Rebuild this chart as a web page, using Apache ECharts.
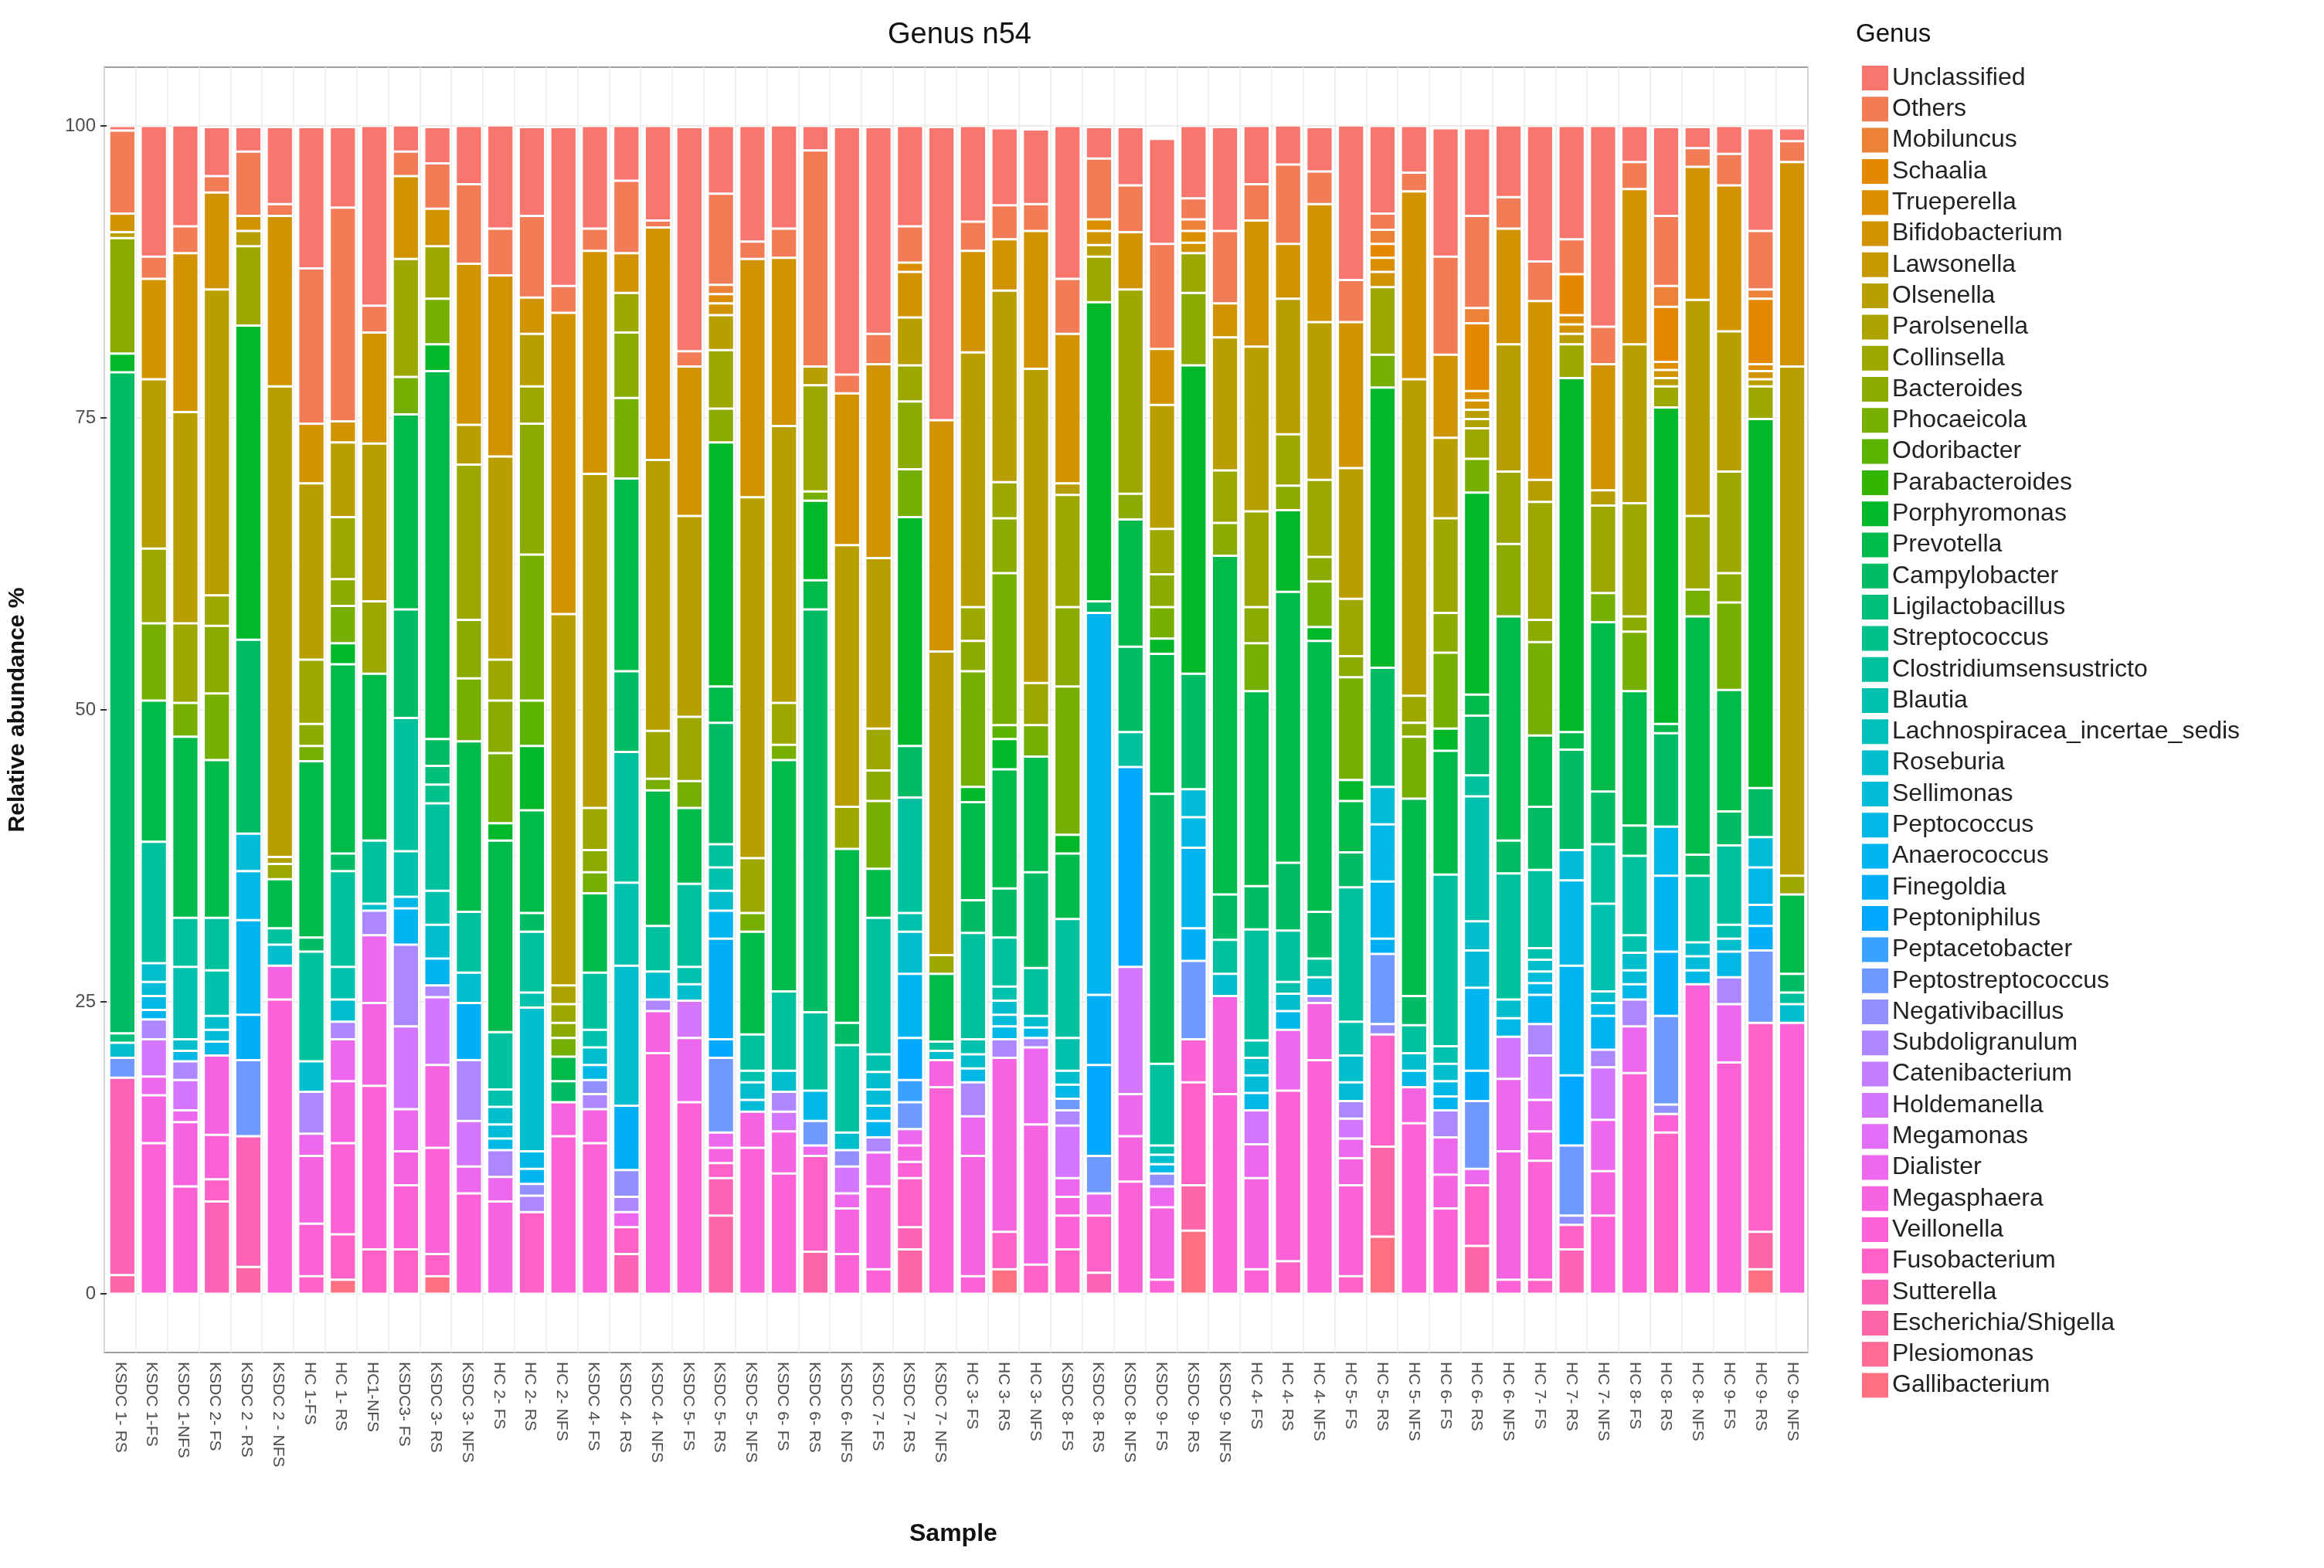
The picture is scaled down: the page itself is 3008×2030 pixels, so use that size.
<!DOCTYPE html>
<html>
<head>
<meta charset="utf-8">
<title>Genus n54</title>
<script src="https://cdn.jsdelivr.net/npm/echarts@6/dist/echarts.min.js"></script>
<style>
  html, body { margin: 0; padding: 0; background: #fff; }
  #chart { width: 3008px; height: 2030px; }
</style>
</head>
<body>
<div id="chart"></div>
<script>
// sample names (x axis)
var samples = ["KSDC 1- RS","KSDC 1-FS","KSDC 1-NFS","KSDC 2- FS","KSDC 2 - RS","KSDC 2 - NFS","HC 1-FS","HC 1- RS","HC1-NFS",
  "KSDC3- FS","KSDC 3- RS","KSDC 3- NFS","HC 2- FS","HC 2- RS","HC 2- NFS","KSDC 4- FS","KSDC 4- RS","KSDC 4- NFS",
  "KSDC 5- FS","KSDC 5- RS","KSDC 5- NFS","KSDC 6- FS","KSDC 6- RS","KSDC 6- NFS","KSDC 7- FS","KSDC 7- RS","KSDC 7- NFS",
  "HC 3- FS","HC 3- RS","HC 3- NFS","KSDC 8- FS","KSDC 8- RS","KSDC 8- NFS","KSDC 9- FS","KSDC 9- RS","KSDC 9- NFS",
  "HC 4- FS","HC 4- RS","HC 4- NFS","HC 5- FS","HC 5- RS","HC 5- NFS","HC 6- FS","HC 6- RS","HC 6- NFS",
  "HC 7- FS","HC 7- RS","HC 7- NFS","HC 8- FS","HC 8- RS","HC 8- NFS","HC 9- FS","HC 9- RS","HC 9- NFS"];

var yTicks = [0, 25, 50, 75, 100];

// relative abundance (%) per genus, one value per sample
var unclassified = [0.4,11.2,8.8,4.2,2.1,6.6,12.1,6.9,15.4,2.3, 3.1,5,8.9,7.6,13.6,8.8,4.7,8.1,19.2,5.8, 9.9,8.9,2.1,21.2,17.7,8.6,25.1,8.2,6.6,6.4, 13.1,2.7,5,9,6.2,8.9,5,3.4,3.8,13.4, 7.5,4,11,7.5,6.2,11.6,9.7,17.2,3.1,7.6, 1.8,2.4,8.8,1.1];
var others = [7.1,1.9,2.3,1.4,5.5,1,13.3,18.3,2.3,2.1, 3.9,6.8,4,7,2.3,1.9,6.2,0.6,1.3,7.8, 1.5,2.5,18.5,1.6,2.6,3.1,0,2.5,2.9,2.3, 4.7,5.2,4,9,1.8,6.2,3.1,6.8,2.8,3.6, 1.4,1.6,8.4,7.9,2.7,3.4,3,3.2,2.3,6, 1.6,2.7,5,1.8];
var mobiluncus = [0,0,0,0,0,0,0,0,0,0, 0,0,0,0,0,0,0,0,0,0.8, 0,0,0,0,0,0,0,0,0,0, 0,0,0,0,1,0,0,0,0,0, 1.2,0,0,1.3,0,0,0,0,0,1.8, 0,0,0.8,0];
var schaalia = [0,0,0,0,0,0,0,0,0,0, 0,0,0,0,0,0,0,0,0,0, 0,0,0,0,0,0,0,0,0,0, 0,0,0,0,0,0,0,0,0,0, 1.2,0,0,5.8,0,0,3.5,0,0,4.7, 0,0,5.6,0];
var trueperella = [0,0,0,0,0,0,0,0,0,0, 0,0,0,0,0,0,0,0,0,0.8, 0,0,0,0,0,0.8,0,0,0,0, 0,1,0,0,1,0,0,0,0,0, 1.2,0,0,0.8,0,0,0.8,0,0,0.7, 0,0,0.6,0];
var bifidobacterium = [1.6,8.6,13.6,8.3,1.3,14.6,5.1,1.8,9.5,7.1, 3.2,13.8,15.5,3.1,25.8,19.1,3.4,19.9,12.8,1, 20.4,14.4,0,13,16.6,3.9,19.8,8.7,4.4,11.8, 12.8,1.2,4.9,4.8,0.9,2.9,10.8,4.7,10.1,12.5, 1.3,16.1,7.1,0.8,9.9,15.3,0.8,10.8,13.3,0.7, 11.4,12.5,0.7,17.5];
var lawsonella = [0,0,0,0,0,0,0,0,0,0, 0,0,0,0,0,0,0,0,0,0, 0,0,0,0,0,0,0,0,0,0, 0,0,0,0,0,0,0,0,0,0, 0,0,0,0,0,0,0,0,0,0, 0,0,0,0];
var olsenella = [0.5,14.5,18.1,26.2,1.3,40.3,15.1,6.4,13.5,0, 0,3.4,17.4,4.5,31.8,28.6,0,23.2,17.2,3, 30.9,23.7,1.6,22.4,14.6,4.1,26,21.8,16.4,26.9, 1,1,0,10.6,0,11.4,14.1,11.6,13.5,11.2, 0,27.1,6.9,0.8,10.9,1.9,0.9,1.3,13.6,0.7, 18.5,12,0.6,43.6];
var parolsenella = [0,0,0,0,0,0.6,0,0,0,0, 0,0,0,0,1.6,0,0,0,0,0, 0,0,0,0,0,0,0,0,0,0, 0,0,0,0,0,0,0,0,0,0, 0,0,0,0.8,0,0,0,0,0,0, 0,0,0,0];
var collinsella = [0,6.4,6.8,2.6,6.8,1.3,5.5,5.3,6.2,10.1, 4.5,13.3,3.5,3.2,1.6,3.6,3.4,4.1,5.5,5, 4.7,3.6,9.1,3.6,3.6,3.1,1.6,2.9,3.1,3.6, 9.6,3.9,17.5,3.9,3.4,4.5,8.2,4.4,6.6,4.9, 5.8,2.3,8.1,2.6,6.2,10.1,2.9,7.5,9.7,1.8, 6.3,8.7,2.8,1.6];
var bacteroides = [9.9,0,0,5.8,0,0,1.9,2.3,0,0, 0,5,4.5,11.2,1.3,1.9,5.6,0,0,2.9, 0,0,0,0,2.6,5.8,0,2.6,4.7,0, 6.8,0,2.2,2.8,6.2,2.8,3.1,2.1,2.1,1.8, 0,1.2,3.4,0,6.2,1.9,0,0,1.3,0, 0,2.5,0,0];
var phocaeicola = [0,6.6,2.9,5.7,0,0,1.3,3.2,0,3.2, 3.9,5.4,6,12.5,1.6,1.8,6.9,1,2.3,0, 1.6,1.3,0.8,0,5.8,4.1,0,9.9,13,2.7, 12.7,0,0,2.7,0,0,4.1,0,3.9,8.8, 2.8,5.3,6.5,2.9,0,8,0,2.5,5.1,0, 2.3,7.5,0,0];
var odoribacter = [0,0,0,0,0,0,0,0,0,0, 0,0,0,3.9,0,0,0,0,0,0, 0,0,0,0,0,0,0,0,1.2,0, 0,0,0,0,0,0,0,0,0,0, 0,0,0,0,0,0,0,0,0,0, 0,0,0,0];
var parabacteroides = [0,0,0,0,0,0,0,0,0,0, 0,0,0,0,0,0,0,0,0,0, 0,0,0,0,0,0,0,0,0,0, 0,0,0,0,0,0,0,0,0,0, 0,0,0,0,0,0,0,0,0,0, 0,0,0,0];
var porphyromonas = [1.6,0,0,0,26.9,0,0,1.8,0,0, 2.3,0,1.5,5.5,0,0,0,0,0,20.9, 0,0,6.8,0,0,19.6,0,1.3,2.6,0, 1.6,25.6,0,1.3,26.4,0,0,7,1.2,1.8, 24,0,1.9,17.3,0,0,30.3,0,0,27.1, 0,0,31.6,0];
var prevotella = [0,12.1,15.5,13.5,0,4.2,15.1,16.2,14.3,16.7, 31.5,14.6,16.4,8.8,2.1,6.8,16.5,11.6,6.5,3.1, 8.8,19.8,2.5,14.9,4.2,0,5.8,8.4,10.2,9.9, 5.6,0,10.9,12,0,29,16.7,23.2,23.2,4.4, 0,16.9,10.6,1.8,19.2,6.1,1.5,14.5,11.5,0.8, 20.4,10.4,0,6.8];
var campylobacter = [56.6,0,0,0,16.6,0,1.2,1.5,0,9.3, 2.3,0,0,1.6,1.8,0,6.9,0,0,10.4, 0,0,34.5,1.9,0,4.4,0,2.8,4.2,8.2, 0,1,7.3,23.1,9.9,3.9,3.7,5.8,4,3, 10.2,2.5,0,5.1,2.8,5.4,8.6,4.5,2.6,8, 1.8,2.9,4.2,1.6];
var ligilactobacillus = [0.8,0,0,0,0,0,0,0,0,0, 1.6,0,0,0,0,0,0,0,0,0, 0,0,0,0,0,0,0,0,0,0, 0,0,0,0,0,0,0,0,0,0, 0,0,0,0,0,0,0,0,0,0, 0,0,0,0];
var streptococcus = [0,0,0,0,0,0,0,0,0,0, 1.6,0,0,0,0,0,0,0,0,0, 0,0,0,0,0,0,0,0,0,0, 0,0,0,0,0,0,0,0,0,0, 0,0,0,0,0,0,0,0,0,0, 0,0,0,0];
var clostridium = [0,10.4,4.2,4.5,0,1.4,9.4,8.2,5.4,11.4, 7.5,5.2,4.9,5.2,0,4.9,11.2,3.9,7.1,2, 3.1,6.8,6.7,7.5,11.7,9.9,0.8,9.1,4.2,4.1, 10.2,0,3,7,0,2.9,9.5,4.4,1.6,11.5, 0,2.4,14.7,1.8,10.8,6.7,0,5.1,6.8,0, 5.7,6.8,0,1];
var blautia = [0,0,6.2,3.9,0,0,0,2.8,0,3.9, 2.9,0,1.5,1.3,0,1.5,7.1,0,1.5,2, 1,0,0,0,1.5,1.6,0,1.3,1.2,0, 2.8,0,0,0.8,0,0,1.5,1,0,2.9, 0,0,1.5,10.7,0,1,0,7.5,1.5,0, 0,1.2,0,0];
var lachnospiracea = [0,0,0,0,0,0,0,0,0,0, 0,0,0,0,0,0,0,0,0,0, 0,0,0,0,0,0,0,0,0,0, 0,0,0,0,0,0,0,0,0,0, 0,0,0,0,0,0,0,0,0,0, 0,0,0,0];
var roseburia = [1.3,1.6,1,1.2,0,1.8,2.6,1.9,0.6,0, 2.9,2.6,1.5,12.3,0,1.5,12,2.4,1.4,1.7, 1.5,1.8,0,1.5,1.5,3.6,0.8,1.2,1.2,1, 1.2,0,0,0.8,0,1.9,1.5,1.5,1.6,2.3, 0,1.5,1.5,2.5,1.6,1,0,1,1.5,0, 1.2,1.1,0,1.6];
var sellimonas = [0,1.2,0,1,3.2,0,0,0,0,0, 0,0,1.2,0,0,0,0,0,0,0, 1,0,0,0,1.4,0,0,0,1,0, 0,0,0,0,2.4,0,1.5,0,0,1.6, 3.2,0,0,3.2,0,1,2.6,0,1.2,0, 1.2,0,2.6,0];
var peptococcus = [0,1.2,0.9,1.2,4.2,0,0,0,0,1, 0,0,1,1.5,0,1.3,0,0,0,0, 0,0,2.6,0,1.3,0,0,1.2,1.1,0.9, 1.2,0,0,0.8,2.6,0,1.5,1.6,0,0, 4.9,1.4,1.3,0,1.6,1,7.3,1.1,1.3,4.2, 1.2,2.2,3.2,0];
var anaerococcus = [0,0.8,0,0,8.1,0,0,0,0,3.1, 2.3,0,0,1.3,0,0,0,0,0,2.4, 0,0,0,0,1.4,5.5,0,0,0,0, 0,32.7,0,0,6.9,0,0,0,0,0, 4.9,0,1.2,7.1,0,2.5,9.4,2.9,0,6.5, 0,0,1.8,0];
var finegoldia = [0,0,0,0,3.9,0,0,0,0,0, 0,4.9,0,0,0,0,5.5,0,0,8.6, 0,0,0,0,0,0,0,0,0,0, 0,6,0,0,2.8,0,0,0,0,0, 1.3,0,0,2.6,0,0,0,0,0,5.5, 0,0,2.1,0];
var peptoniphilus = [0,0,0,0,0,0,0,0,0,0, 0,0,0,0,0,0,0,0,0,1.6, 0,0,0,0,0,3.6,0,0,0,0, 0,7.8,17.1,0,0,0,0,0,0,0, 0,0,0,0,0,0,6,0,0,0, 0,0,0,0];
var peptacetobacter = [0,0,0,0,0,0,0,0,0,0, 0,0,0,0,0,0,0,0,0,0, 0,0,0,0,0,1.9,0,0,0,0, 0,0,0,0,0,0,0,0,0,0, 0,0,0,0,0,0,0,0,0,0, 0,0,0,0];
var peptostreptococcus = [1.7,0,0,0,6.5,0,0,0,0,0, 0,0,0,0,0,0,0,0,0,6.4, 0,0,2.1,0,0,2.3,0,0,0,0, 1,3.2,0,0,6.7,0,0,0,0,0, 6,0,0,5.8,0,0,6,0,0,7.6, 0,0,6.2,0];
var negativibacillus = [0,0,0,0,0,0,0,0,0,0, 0,0,0,1,0,1.2,2.3,0,0,0, 0,0,0,1.4,0,0,0,0,0,0, 0,0,0,1.1,0,0,0,0,0,0, 0.9,0,0,0,0,0,0.8,0,0,0.8, 0,0,0,0];
var subdoligranulum = [0,1.7,1.6,0,0,0,3.6,1.5,2.1,7, 1,5.2,2.3,1.4,0,1.3,1.3,1,0,0, 0,1.7,0,0,1.3,0,0,2.9,1.6,0.8, 1.3,0,0,0,0,0,0,0,0.6,1.5, 0,0,2.3,0,0,2.7,0,1.5,2.3,0, 0,2.3,0,0];
var catenibacterium = [0,0,0,0,0,0,0,0,0,0, 0,0,0,0,0,0,0,0,0,0, 0,0,0,0,0,0,0,0,0,0, 0,0,0,0,0,0,0,0,0,0, 0,0,0,0,0,0,0,0,0,0, 0,0,0,0];
var holdemanella = [0,3.2,2.6,0,0,0,0,0,0,7.1, 5.8,3.9,0,0,0,0,0,0,3.2,0, 0,1.7,0,2.3,0,0,0,0,0,0, 4.5,0,10.9,0,0,0,2.9,0,0,1.7, 0,0,0,0,3.6,3.8,0,4.5,0,0, 0,0,0,0];
var megamonas = [0,0,0,0,0,0,0,0,0,0, 0,0,0,0,0,0,0,0,0,0, 0,0,0,0,0,0,0,0,0,0, 0,0,0,0,0,0,0,0,0,0, 0,0,0,0,0,0,0,0,0,0, 0,0,0,0];
var dialister = [0,1.6,1,0,0,0,1.9,3.6,5.8,3.6, 0,2.3,2.1,0,0,0,1.3,0,5.5,1.3, 0,0,0.9,1.3,2.9,1.4,0,3.4,0,6.6, 1.6,1.9,3.6,1.8,0,0,2.9,5.2,0,1.7, 0,0,3.2,1.4,6.2,2.7,0,4.4,4,0, 0,5,0,0];
var megasphaera = [0,4.1,5.5,6.8,0,2.9,5.8,5.3,7.1,2.9, 7.1,0,7.9,0,2.9,2.9,0,3.6,0,1.3, 3.1,3.6,0,3.9,7.1,1.4,2.3,10.3,14.9,12, 1.6,0,3.9,6.2,0,8.4,7.8,0,4.9,2.3, 0,3.1,2.9,0,11,2.5,0,3.8,0,0, 0,0,0,0];
var veillonella = [0,12.9,9.2,3.8,0,25.2,4.5,7.8,14,5.5, 9.1,8.6,0,0,13.5,12.9,0,20.6,16.4,0, 12.5,10.3,0,3.4,2.1,1.4,17.7,1.5,0,0, 2.9,0,9.6,1.2,3.7,17.1,2.1,14.6,20,7.8, 0,14.6,7.3,0,1.2,10.2,0,6.7,18.9,1.6, 26.5,19.8,0,23.2];
var fusobacterium = [0,0,0,1.9,0,0,1.5,3.9,3.8,3.8, 1.9,0,0,7,0,0,2.3,0,0,1.3, 0,0,8.2,0,0,4.2,0,0,3.2,2.5, 3.8,4.9,0,0,8.8,0,0,2.8,0,1.5, 9.6,0,0,5.2,0,1.2,2.1,0,0,13.8, 0,0,17.9,0];
var sutterella = [16.9,0,0,7.9,11.2,0,0,0,0,0, 0,0,0,0,0,0,3.4,0,0,3.2, 0,0,0,0,0,1.9,0,0,0,0, 0,1.8,0,0,0,0,0,0,0,0, 0,0,0,0,0,0,3.8,0,0,0, 0,0,0,0];
var escherichia = [1.6,0,0,0,2.3,0,0,0,0,0, 0,0,0,0,0,0,0,0,0,6.7, 0,0,3.6,0,0,3.8,0,0,0,0, 0,0,0,0,3.9,0,0,0,0,0, 7.7,0,0,4.1,0,0,0,0,0,0, 0,0,3.2,0];
var plesiomonas = [0,0,0,0,0,0,0,0,0,0, 0,0,0,0,0,0,0,0,0,0, 0,0,0,0,0,0,0,0,0,0, 0,0,0,0,0,0,0,0,0,0, 0,0,0,0,0,0,0,0,0,0, 0,0,0,0];
var gallibacterium = [0,0,0,0,0,0,0,1.2,0,0, 1.5,0,0,0,0,0,0,0,0,0, 0,0,0,0,0,0,0,0,2.1,0, 0,0,0,0,5.4,0,0,0,0,0, 4.9,0,0,0,0,0,0,0,0,0, 0,0,2.1,0];

// legend order, top to bottom
var genera = [
  ["Unclassified", unclassified], ["Others", others], ["Mobiluncus", mobiluncus], ["Schaalia", schaalia],
  ["Trueperella", trueperella], ["Bifidobacterium", bifidobacterium], ["Lawsonella", lawsonella], ["Olsenella", olsenella],
  ["Parolsenella", parolsenella], ["Collinsella", collinsella], ["Bacteroides", bacteroides], ["Phocaeicola", phocaeicola],
  ["Odoribacter", odoribacter], ["Parabacteroides", parabacteroides], ["Porphyromonas", porphyromonas], ["Prevotella", prevotella],
  ["Campylobacter", campylobacter], ["Ligilactobacillus", ligilactobacillus], ["Streptococcus", streptococcus],
  ["Clostridiumsensustricto", clostridium], ["Blautia", blautia], ["Lachnospiracea_incertae_sedis", lachnospiracea],
  ["Roseburia", roseburia], ["Sellimonas", sellimonas], ["Peptococcus", peptococcus], ["Anaerococcus", anaerococcus],
  ["Finegoldia", finegoldia], ["Peptoniphilus", peptoniphilus], ["Peptacetobacter", peptacetobacter],
  ["Peptostreptococcus", peptostreptococcus], ["Negativibacillus", negativibacillus], ["Subdoligranulum", subdoligranulum],
  ["Catenibacterium", catenibacterium], ["Holdemanella", holdemanella], ["Megamonas", megamonas], ["Dialister", dialister],
  ["Megasphaera", megasphaera], ["Veillonella", veillonella], ["Fusobacterium", fusobacterium], ["Sutterella", sutterella],
  ["Escherichia/Shigella", escherichia], ["Plesiomonas", plesiomonas], ["Gallibacterium", gallibacterium]
];

// ggplot-like hue palette (HCL, c=100 l=65)
function hcl(h, c, l) {
    var hr = h * Math.PI / 180;
    var U = c * Math.cos(hr), V = c * Math.sin(hr);
    var Y = Math.pow((l + 16) / 116, 3);
    var un = 0.1978398, vn = 0.4683363;
    var up = U / (13 * l) + un, vp = V / (13 * l) + vn;
    var X = Y * 9 * up / (4 * vp);
    var Z = Y * (12 - 3 * up - 20 * vp) / (4 * vp);
    var rgb = [
        3.2404542 * X - 1.5371385 * Y - 0.4985314 * Z,
        -0.9692660 * X + 1.8760108 * Y + 0.0415560 * Z,
        0.0556434 * X - 0.2040259 * Y + 1.0572252 * Z
    ];
    return '#' + rgb.map(function(v) {
        v = v <= 0.0031308 ? 12.92 * v : 1.055 * Math.pow(v, 1 / 2.4) - 0.055;
        v = Math.round(Math.max(0, Math.min(1, v)) * 255);
        return (v < 16 ? '0' : '') + v.toString(16);
    }).join('');
}

var n = genera.length;
var series = [];
// stack bottom first: reverse of legend order
for (var i = n - 1; i >= 0; i--) {
    series.push({
        name: genera[i][0],
        type: 'bar',
        stack: 'total',
        barWidth: '84%',
        data: genera[i][1],
        itemStyle: { color: hcl(15 + 360 * i / n, 100, 65), borderColor: '#ffffff', borderWidth: 1.5 },
        emphasis: { disabled: true }
    });
}

var font = 'Liberation Sans, Arial, sans-serif';
var myChart = echarts.init(document.getElementById('chart'));
var option = {
    backgroundColor: '#ffffff',
    animation: false,
    title: {
        text: 'Genus n54', left: 1237, top: 22, textAlign: 'center',
        textStyle: { fontFamily: font, fontSize: 38, fontWeight: 'normal', color: '#111' }
    },
    legend: {
        orient: 'vertical', left: 2405, top: 80,
        itemWidth: 34, itemHeight: 32, itemGap: 8.3, icon: 'rect',
        itemStyle: { borderWidth: 0 },
        textStyle: { fontFamily: font, fontSize: 32, color: '#222' },
        data: genera.map(function(g) { return g[0]; })
    },
    grid: [
        { left: 135, right: 668, top: 163, bottom: 355 },
        { left: 135, right: 668, top: 87, bottom: 279, show: true, borderColor: '#7f7f7f', borderWidth: 1.5, backgroundColor: 'transparent' }
    ],
    xAxis: [
        { type: 'category', gridIndex: 0, data: samples, show: false },
        {
            type: 'category', gridIndex: 1, data: samples, boundaryGap: true,
            axisLine: { show: false },
            axisTick: { alignWithLabel: true, length: 8, lineStyle: { color: '#333', width: 2 } },
            axisLabel: { rotate: -90, interval: 0, fontFamily: font, fontSize: 21, color: '#4d4d4d', margin: 12 },
            splitLine: { show: true, interval: 0, lineStyle: { color: '#ebebeb', width: 1.5 } }
        }
    ],
    yAxis: [
        {
            type: 'value', gridIndex: 0, min: 0, max: 100, interval: 25,
            name: 'Relative abundance %', nameLocation: 'middle', nameGap: 100,
            nameTextStyle: { fontFamily: font, fontSize: 30, fontWeight: 'bold', color: '#111' },
            axisLine: { show: false },
            axisTick: { show: true, length: 8, lineStyle: { color: '#333', width: 2 } },
            axisLabel: {
                fontFamily: font, fontSize: 24, color: '#4d4d4d', margin: 14,
                formatter: function(v) { return yTicks.indexOf(v) >= 0 ? String(v) : ''; }
            },
            splitLine: { show: true, lineStyle: { color: '#ebebeb', width: 2 } },
            minorTick: { show: false, splitNumber: 2 },
            minorSplitLine: { show: true, lineStyle: { color: '#f5f5f5', width: 1.5 } }
        },
        { type: 'value', gridIndex: 1, show: false, min: 0, max: 1, splitLine: { show: false } }
    ],
    graphic: [
        { type: 'text', left: 1237 - 60, top: 1970, style: { text: 'Sample', font: 'bold 32px ' + font, fill: '#111' } },
        { type: 'text', left: 2402, top: 28, style: { text: 'Genus', font: '33px ' + font, fill: '#111' } }
    ],
    series: series
};
myChart.setOption(option);
</script>
</body>
</html>
